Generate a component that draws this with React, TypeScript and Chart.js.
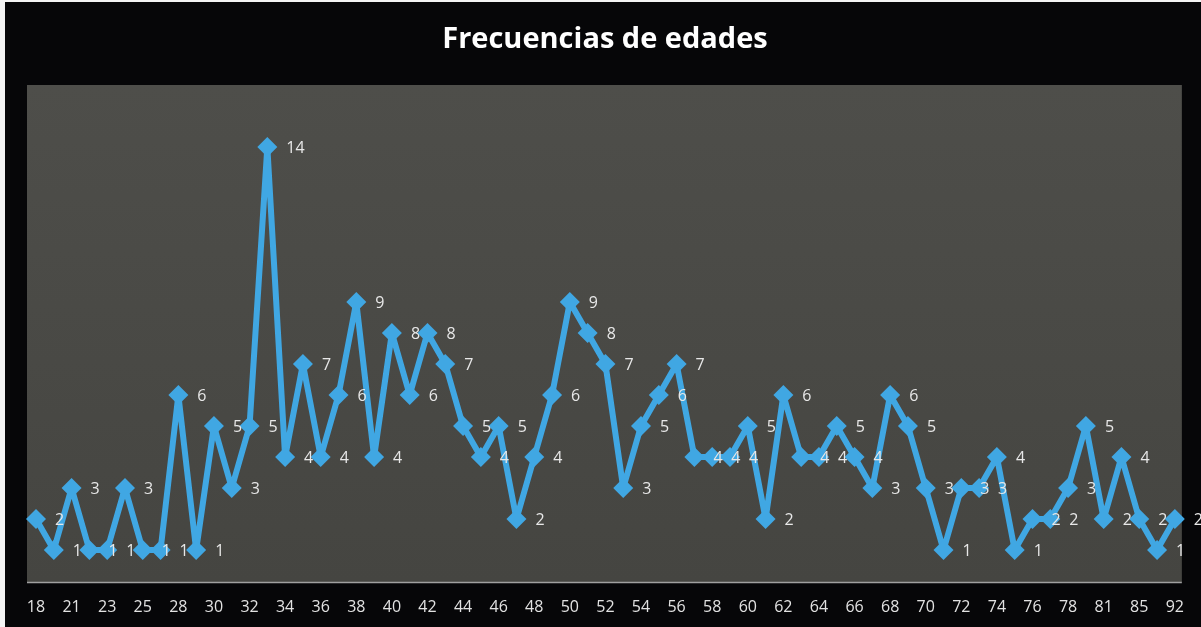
import React, { useEffect, useRef } from "react";
import { Chart, registerables } from "chart.js";

Chart.register(...registerables);

const TITLE = "Frecuencias de edades";

const ages: string[] = [
  "18", "20", "21", "22", "23", "24", "25", "27", "28", "29",
  "30", "31", "32", "33", "34", "35", "36", "37", "38", "39",
  "40", "41", "42", "43", "44", "45", "46", "47", "48", "49",
  "50", "51", "52", "53", "54", "55", "56", "57", "58", "59",
  "60", "61", "62", "63", "64", "65", "66", "67", "68", "69",
  "70", "71", "72", "73", "74", "75", "76", "77", "78", "79",
  "81", "83", "85", "87", "92",
];

const frequencies: number[] = [
  2, 1, 3, 1, 1, 3, 1, 1, 6, 1,
  5, 3, 5, 14, 4, 7, 4, 6, 9, 4,
  8, 6, 8, 7, 5, 4, 5, 2, 4, 6,
  9, 8, 7, 3, 5, 6, 7, 4, 4, 4,
  5, 2, 6, 4, 4, 5, 4, 3, 6, 5,
  3, 1, 3, 3, 4, 1, 2, 2, 3, 5,
  2, 4, 2, 1, 2,
];

const LINE_BLUE = "#40a7e3";
const FONT = "'Open Sans', 'Noto Sans', sans-serif";

const decorPlugin = {
  id: "decor",
  beforeDraw(chart: any) {
    const ctx = chart.ctx as CanvasRenderingContext2D;
    const { width, height, chartArea } = chart;
    ctx.save();
    ctx.fillStyle = "#f4f4f4";
    ctx.fillRect(0, 0, width, height);
    ctx.fillStyle = "#060608";
    ctx.fillRect(5, 2, width - 5, height - 2);
    // plot panel
    const left = chartArea.left - 9;
    const right = chartArea.right + 7;
    const top = chartArea.top;
    const bottom = chartArea.bottom + 1;
    const grad = ctx.createLinearGradient(0, top, 0, bottom);
    grad.addColorStop(0, "#4e4e4a");
    grad.addColorStop(1, "#454541");
    ctx.fillStyle = grad;
    ctx.fillRect(left, top, right - left, bottom - top);
    // axis line
    ctx.strokeStyle = "#a0a0a0";
    ctx.lineWidth = 1.5;
    ctx.beginPath();
    ctx.moveTo(left, bottom + 0.5);
    ctx.lineTo(right, bottom + 0.5);
    ctx.stroke();
    // title
    ctx.fillStyle = "#ffffff";
    ctx.font = `bold 29px ${FONT}`;
    ctx.textAlign = "center";
    ctx.textBaseline = "middle";
    ctx.fillText(TITLE, 605, 40);
    ctx.restore();
  },
  afterDatasetsDraw(chart: any) {
    const ctx = chart.ctx as CanvasRenderingContext2D;
    const meta = chart.getDatasetMeta(0);
    const data = chart.data.datasets[0].data as number[];
    ctx.save();
    ctx.fillStyle = "#e8e8e8";
    ctx.font = `16px ${FONT}`;
    ctx.textAlign = "left";
    ctx.textBaseline = "middle";
    meta.data.forEach((pt: any, i: number) => {
      ctx.fillText(String(data[i]), pt.x + 19, pt.y + 1);
    });
    ctx.restore();
  },
};

export default function App() {
  const canvasRef = useRef<HTMLCanvasElement | null>(null);

  useEffect(() => {
    document.body.style.margin = "0";
    const canvas = canvasRef.current;
    if (!canvas) return;
    const chart = new Chart(canvas, {
      type: "line",
      data: {
        labels: ages,
        datasets: [
          {
            data: frequencies,
            borderColor: LINE_BLUE,
            backgroundColor: LINE_BLUE,
            borderWidth: 6,
            borderJoinStyle: "round",
            borderCapStyle: "round",
            pointStyle: "rectRot",
            pointRadius: 10,
            pointBorderWidth: 0,
            pointBackgroundColor: LINE_BLUE,
            tension: 0,
            fill: false,
          },
        ],
      },
      options: {
        animation: false,
        responsive: false,
        maintainAspectRatio: false,
        layout: { padding: { left: 36, right: 23, top: 85, bottom: 0 } },
        plugins: {
          legend: { display: false },
          title: { display: false },
          tooltip: { enabled: false },
        },
        scales: {
          x: {
            offset: false,
            grid: { display: false, drawTicks: false },
            border: { display: false },
            afterFit: (axis: any) => {
              axis.height = 46;
            },
            ticks: {
              autoSkip: false,
              maxRotation: 0,
              minRotation: 0,
              padding: 17,
              color: "#e2e2e2",
              font: { family: FONT, size: 16 },
              callback: (_v: any, idx: number) => (idx % 2 === 0 ? ages[idx] : ""),
            },
          },
          y: {
            display: false,
            min: 0,
            max: 16,
          },
        },
      },
      plugins: [decorPlugin],
    });
    return () => chart.destroy();
  }, []);

  return (
    <div style={{ width: 1201, height: 627 }}>
      <canvas ref={canvasRef} width={1201} height={627} style={{ display: "block" }} />
    </div>
  );
}
